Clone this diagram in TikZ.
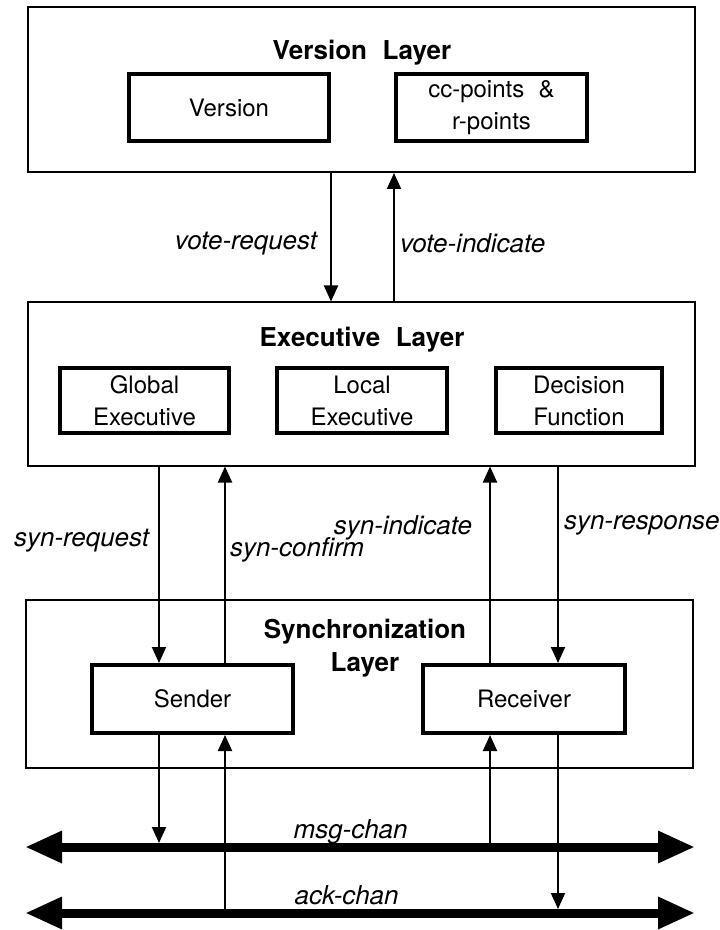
\documentclass[tikz,border=0pt]{standalone}
\usepackage{fontspec}
\setmainfont{TeX Gyre Heros}
\usetikzlibrary{arrows.meta,positioning}

\begin{document}
\begin{tikzpicture}[x=0.5pt,y=-0.5pt,
    layer/.style={draw,line width=1pt,inner sep=0pt,minimum width=333.5pt},
    unit/.style={draw,line width=2pt,inner sep=0pt,align=center,font=\fontsize{12}{16}\selectfont},
    title/.style={font=\fontsize{13}{16.5}\selectfont\bfseries,align=center},
    sig/.style={line width=1pt,-{Triangle[length=8pt,width=7pt]}},
    lbl/.style={font=\fontsize{13}{15}\selectfont\itshape,inner sep=0pt},
    chan/.style={line width=4.5pt,{Triangle[length=18.5pt,width=15pt]}-{Triangle[length=18.5pt,width=15pt]}}]

\useasboundingbox (0,0) rectangle (719,930);

% the three layers
\node[layer,minimum height=82.5pt] (vl) at (361.5,89.5) {};
\node[layer,minimum height=81.5pt] (el) at (361.5,384) {};
\node[layer,minimum height=84pt] (sl) at (359.5,684) {};

\node[title] (vt) at (362,53) {Version\hspace{0.6em}Layer};
\node[title] (et) at (362,340) {Executive\hspace{0.6em}Layer};
\node[title] (st) at (365,648.5) {Synchronization\\Layer};

% boxes inside the layers
\node[unit,minimum width=100pt,minimum height=33.5pt] (ver) at (229,107.5) {Version};
\node[unit,minimum width=95.5pt,minimum height=33.5pt] (pts) at (491.5,107.5) {cc-points\hspace{0.6em}\&\\r-points};

\node[unit,minimum width=84.5pt,minimum height=32.5pt] (glb) at (144.5,400.5) {Global\\Executive};
\node[unit,minimum width=85pt,minimum height=32.5pt] (loc) at (362,400.5) {Local\\Executive};
\node[unit,minimum width=83pt,minimum height=32.5pt] (dec) at (579,400.5) {Decision\\Function};

\node[unit,minimum width=100.5pt,minimum height=34pt] (snd) at (192.5,699) {Sender};
\node[unit,minimum width=101pt,minimum height=34pt] (rcv) at (524,699) {Receiver};

\coordinate (sa) at ([xshift=34.5pt]snd.north west);
\coordinate (sb) at ([xshift=67.5pt]snd.north west);
\coordinate (ra) at ([xshift=34.5pt]rcv.north west);
\coordinate (rb) at ([xshift=68.5pt]rcv.north west);

% channel ends
\coordinate (mL) at (25,847);
\coordinate (mR) at (695,847);
\coordinate (aL) at (25,913);
\coordinate (aR) at (695,913);

% layer to layer
\draw[sig] (ver.east |- vl.south) -- (ver.east |- el.north)
    node[lbl,pos=0.546,anchor=east,xshift=-6.5pt] (vrq) {vote-request};
\draw[sig] (pts.west |- el.north) -- (pts.west |- vl.south)
    node[lbl,pos=0.454,anchor=west,xshift=2.5pt] (vin) {vote-indicate};

\draw[sig] (sa |- el.south) -- (sa |- snd.north)
    node[lbl,pos=0.375,anchor=east,xshift=-4.5pt] (srq) {syn-request};
\draw[sig] (sb |- snd.north) -- (sb |- el.south)
    node[lbl,pos=0.575,anchor=west,xshift=2pt] (scf) {syn-confirm};
\draw[sig] (ra |- rcv.north) -- (ra |- el.south)
    node[lbl,pos=0.69,anchor=east,xshift=-8.5pt] (sin) {syn-indicate};
\draw[sig] (rb |- el.south) -- (rb |- rcv.north)
    node[lbl,pos=0.3,anchor=west,xshift=2.5pt] (srs) {syn-response};

% to and from the channels
\draw[sig,shorten >=2pt] (sa |- snd.south) -- (sa |- mL);
\draw[sig] (sb |- aL) -- (sb |- snd.south);
\draw[sig] (ra |- mL) -- (ra |- rcv.south);
\draw[sig,shorten >=2pt] (rb |- rcv.south) -- (rb |- aL);

\draw[chan] (mL) -- (mR) node[lbl,pos=0.486,anchor=base,yshift=4.5pt] (msg) {msg-chan};
\draw[chan] (aL) -- (aR) node[lbl,pos=0.48,anchor=base,yshift=4.5pt] (ack) {ack-chan};

\end{tikzpicture}
\end{document}
